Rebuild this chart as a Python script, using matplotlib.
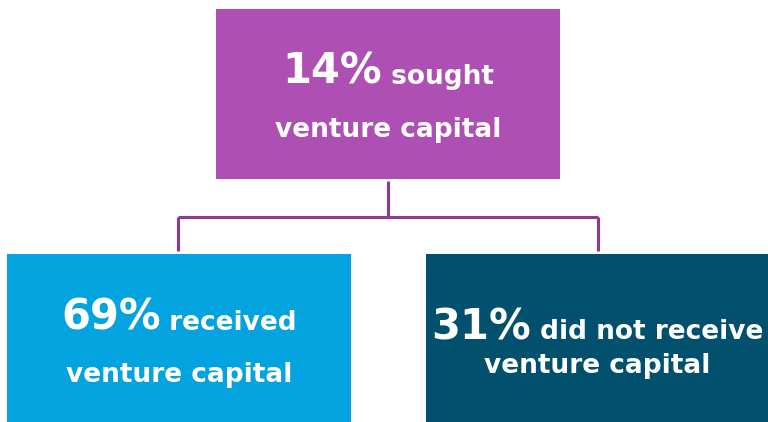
import matplotlib
matplotlib.use("Agg")
import matplotlib.pyplot as plt
from matplotlib.patches import Rectangle

# Data
percents = [14, 69, 31]
first_words = ["sought", "received", "did not receive"]
second_lines = ["venture capital", "venture capital", "venture capital"]
colors = ["#AE4FB3", "#03A3E0", "#01516E"]
line_color = "#8E3A92"

# Layout (pixel coords)
boxes = [(216, 9, 344, 170), (7, 254, 344, 168), (426, 254, 342, 168)]

fig = plt.figure(figsize=(7.68, 4.22), dpi=100)
ax = fig.add_axes([0, 0, 1, 1])
ax.set_xlim(0, 768)
ax.set_ylim(422, 0)
ax.axis("off")

for (x, y, w, h), c in zip(boxes, colors):
    ax.add_patch(Rectangle((x, y), w, h, facecolor=c, edgecolor="none"))

# connectors
ax.plot([388, 388], [181, 217], color=line_color, lw=2.2, solid_capstyle="butt")
ax.plot([178, 598], [217, 217], color=line_color, lw=2.2, solid_capstyle="butt")
ax.plot([178, 178], [217, 251], color=line_color, lw=2.2, solid_capstyle="butt")
ax.plot([598, 598], [217, 251], color=line_color, lw=2.2, solid_capstyle="butt")

fig.canvas.draw()
renderer = fig.canvas.get_renderer()

big_fs = 30
small_fs = 19
line1_y = [84, 330, 339]
line2_y = [137, 382, 373]

for i, (x, y, w, h) in enumerate(boxes):
    cx = x + w / 2
    t1 = ax.text(0, line1_y[i], f"{percents[i]}%", fontsize=big_fs, fontweight="bold",
                 color="white", ha="left", va="baseline")
    t2 = ax.text(0, line1_y[i], " " + first_words[i], fontsize=small_fs, fontweight="bold",
                 color="white", ha="left", va="baseline")
    w1 = t1.get_window_extent(renderer).width
    w2 = t2.get_window_extent(renderer).width
    total = w1 + w2
    start = cx - total / 2
    t1.set_x(start)
    t2.set_x(start + w1)
    ax.text(cx, line2_y[i], second_lines[i], fontsize=small_fs, fontweight="bold",
            color="white", ha="center", va="baseline")

fig.savefig("out.png", dpi=100)
